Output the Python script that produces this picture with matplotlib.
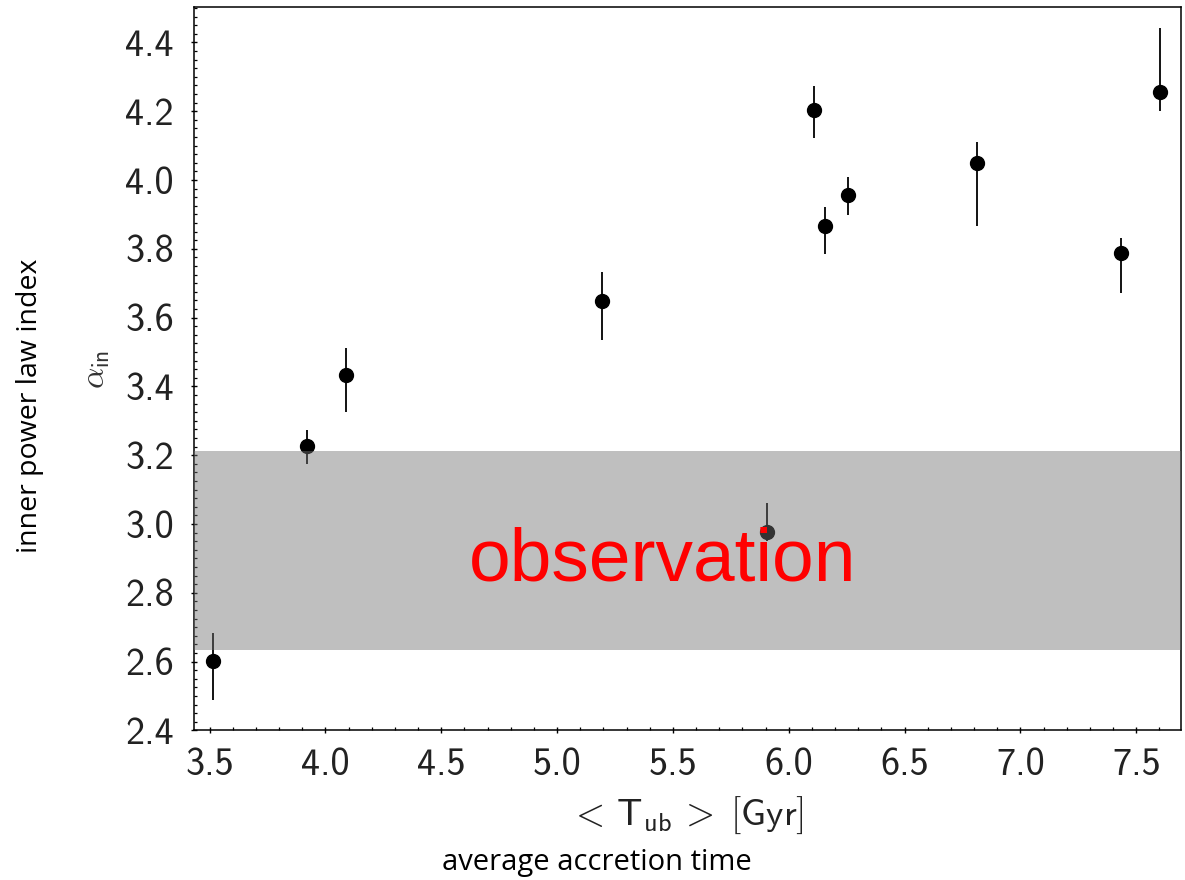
import matplotlib
matplotlib.use("Agg")
import matplotlib.pyplot as plt
import numpy as np
from matplotlib.ticker import MultipleLocator, FormatStrFormatter

plt.rcParams['mathtext.fontset'] = 'cm'

# Data
t_ub = [3.516, 3.919, 4.089, 5.195, 5.908, 6.108, 6.158, 6.256, 6.812, 7.435, 7.604]
alpha_in = [2.602, 3.227, 3.433, 3.649, 2.976, 4.204, 3.867, 3.957, 4.049, 3.787, 4.257]
err_hi = [2.683, 3.274, 3.511, 3.734, 3.062, 4.274, 3.923, 4.010, 4.112, 3.831, 4.441]
err_lo = [2.489, 3.175, 3.327, 3.535, 2.950, 4.122, 3.784, 3.899, 3.865, 3.671, 4.202]

obs_low, obs_high = 2.634, 3.2125
x_ticks = [3.5, 4.0, 4.5, 5.0, 5.5, 6.0, 6.5, 7.0, 7.5]
y_ticks = [2.4, 2.6, 2.8, 3.0, 3.2, 3.4, 3.6, 3.8, 4.0, 4.2, 4.4]

x = np.array(t_ub)
y = np.array(alpha_in)
yerr = np.vstack([y - np.array(err_lo), np.array(err_hi) - y])

fig = plt.figure(figsize=(11.85, 8.8), dpi=100)
ax = fig.add_axes([0.1637, 0.170, 0.9966 - 0.1637, 0.992 - 0.170])

ax.errorbar(x, y, yerr=yerr, fmt='o', color='black', ms=10, elinewidth=1.3,
            capsize=0, zorder=2)
ax.axhspan(obs_low, obs_high, color=(115/255, 115/255, 115/255), alpha=0.45,
           lw=0, zorder=3)
ax.text(5.454, 2.835, 'observation', color='red', fontsize=54,
        family='Liberation Sans', ha='center', va='baseline', zorder=4)

ax.set_xlim(3.433, 7.693)
ax.set_ylim(2.4, 4.503)
ax.set_xticks(x_ticks)
ax.set_yticks(y_ticks)
ax.xaxis.set_minor_locator(MultipleLocator(0.1))
ax.yaxis.set_minor_locator(MultipleLocator(0.025))
ax.xaxis.set_major_formatter(FormatStrFormatter('%.1f'))
ax.yaxis.set_major_formatter(FormatStrFormatter('%.1f'))

ax.tick_params(which='major', direction='inout', length=5, width=1.0,
               labelsize=27.5, top=False, right=False)
ax.tick_params(axis='x', which='major', pad=10)
ax.tick_params(axis='y', which='major', pad=12)
ax.tick_params(which='minor', direction='in', length=2.2, width=0.9,
               top=False, right=False)
for lab in ax.get_xticklabels() + ax.get_yticklabels():
    lab.set_family('cmss10')
    lab.set_color('#222222')
for s in ax.spines.values():
    s.set_linewidth(1.1)

fig.text(686 / 1185, 1 - 815 / 880,
         r'$<\,\mathsf{T}_{\mathsf{ub}}\,>\;\mathsf{[Gyr]}$',
         fontsize=27, ha='center', va='center', color='#222222')
fig.text(95 / 1185, 1 - 369 / 880, r'$\alpha_{\mathsf{in}}$', fontsize=24,
         rotation=90, ha='center', va='center', color='#333333')
fig.text(30 / 1185, 1 - 406 / 880, 'inner power law index', fontsize=20.5,
         family='Open Sans', rotation=90, ha='center', va='center')
fig.text(597 / 1185, 1 - 862 / 880, 'average accretion time', fontsize=21,
         family='Open Sans', ha='center', va='center')

fig.savefig('out.png', dpi=100)
